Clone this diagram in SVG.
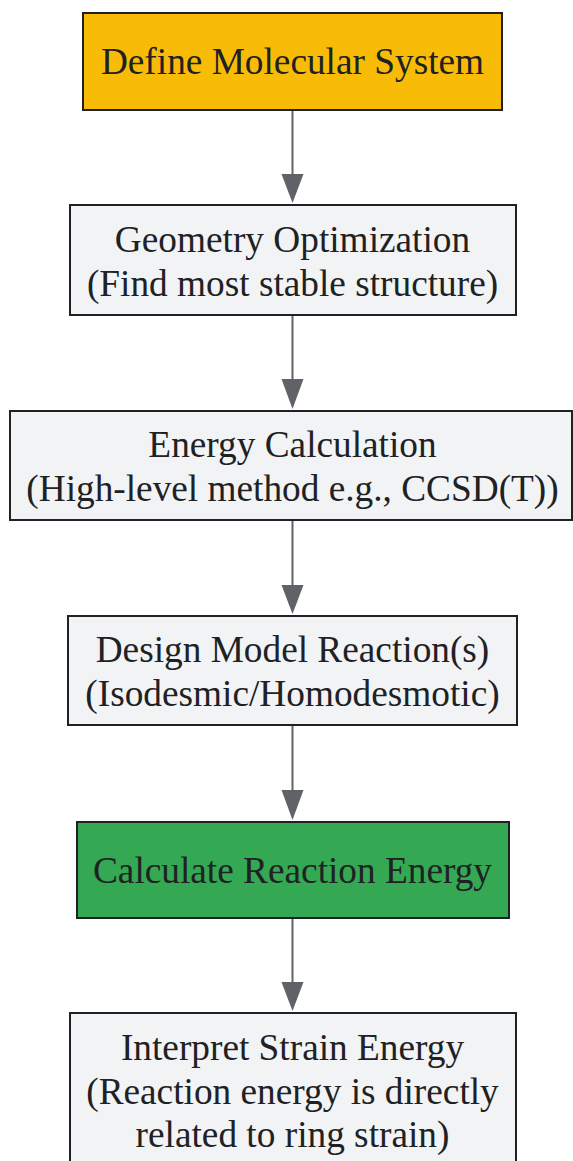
<svg xmlns="http://www.w3.org/2000/svg" width="573" height="1161" viewBox="0 0 573 1161">
<defs>
<style>
.box{stroke:#202124;stroke-width:2}
.gray{fill:#f1f3f4}
.t{font-family:"Liberation Serif","Times New Roman",serif;font-size:37.3px;fill:#202124;text-anchor:middle}
.edge{stroke:#5f6368;stroke-width:2;fill:none}
.head{fill:#5f6368}
</style>
</defs>
<rect width="573" height="1161" fill="#ffffff"/>
<g id="edges">
<path class="edge" d="M292.5,110 V174"/>
<polygon class="head" points="281.5,174 303.5,174 292.5,203"/>
<path class="edge" d="M292.5,315 V379"/>
<polygon class="head" points="281.5,379 303.5,379 292.5,409"/>
<path class="edge" d="M292.5,520 V585"/>
<polygon class="head" points="281.5,585 303.5,585 292.5,614"/>
<path class="edge" d="M292.5,725 V790"/>
<polygon class="head" points="281.5,790 303.5,790 292.5,820"/>
<path class="edge" d="M292.5,918 V982"/>
<polygon class="head" points="281.5,982 303.5,982 292.5,1011"/>
</g>
<g id="n1">
<rect class="box" x="83" y="13" width="419" height="97" fill="#f9bc06"/>
<text class="t" x="292.5" y="74">Define Molecular System</text>
</g>
<g id="n2">
<rect class="box gray" x="70" y="205" width="446" height="110"/>
<text class="t" x="292.5" y="252">Geometry Optimization</text>
<text class="t" x="292.5" y="296">(Find most stable structure)</text>
</g>
<g id="n3">
<rect class="box gray" x="10" y="411" width="562" height="109"/>
<text class="t" x="292.5" y="457">Energy Calculation</text>
<text class="t" x="292.5" y="501">(High-level method e.g., CCSD(T))</text>
</g>
<g id="n4">
<rect class="box gray" x="68" y="616" width="449" height="109"/>
<text class="t" x="292.5" y="662">Design Model Reaction(s)</text>
<text class="t" x="292.5" y="706">(Isodesmic/Homodesmotic)</text>
</g>
<g id="n5">
<rect class="box" x="77" y="822" width="432" height="96" fill="#34a853"/>
<text class="t" x="292.5" y="883">Calculate Reaction Energy</text>
</g>
<g id="n6">
<rect class="box gray" x="70" y="1013" width="446" height="160"/>
<text class="t" x="292.5" y="1060">Interpret Strain Energy</text>
<text class="t" x="292.5" y="1104">(Reaction energy is directly</text>
<text class="t" x="292.5" y="1147">related to ring strain)</text>
</g>
</svg>
